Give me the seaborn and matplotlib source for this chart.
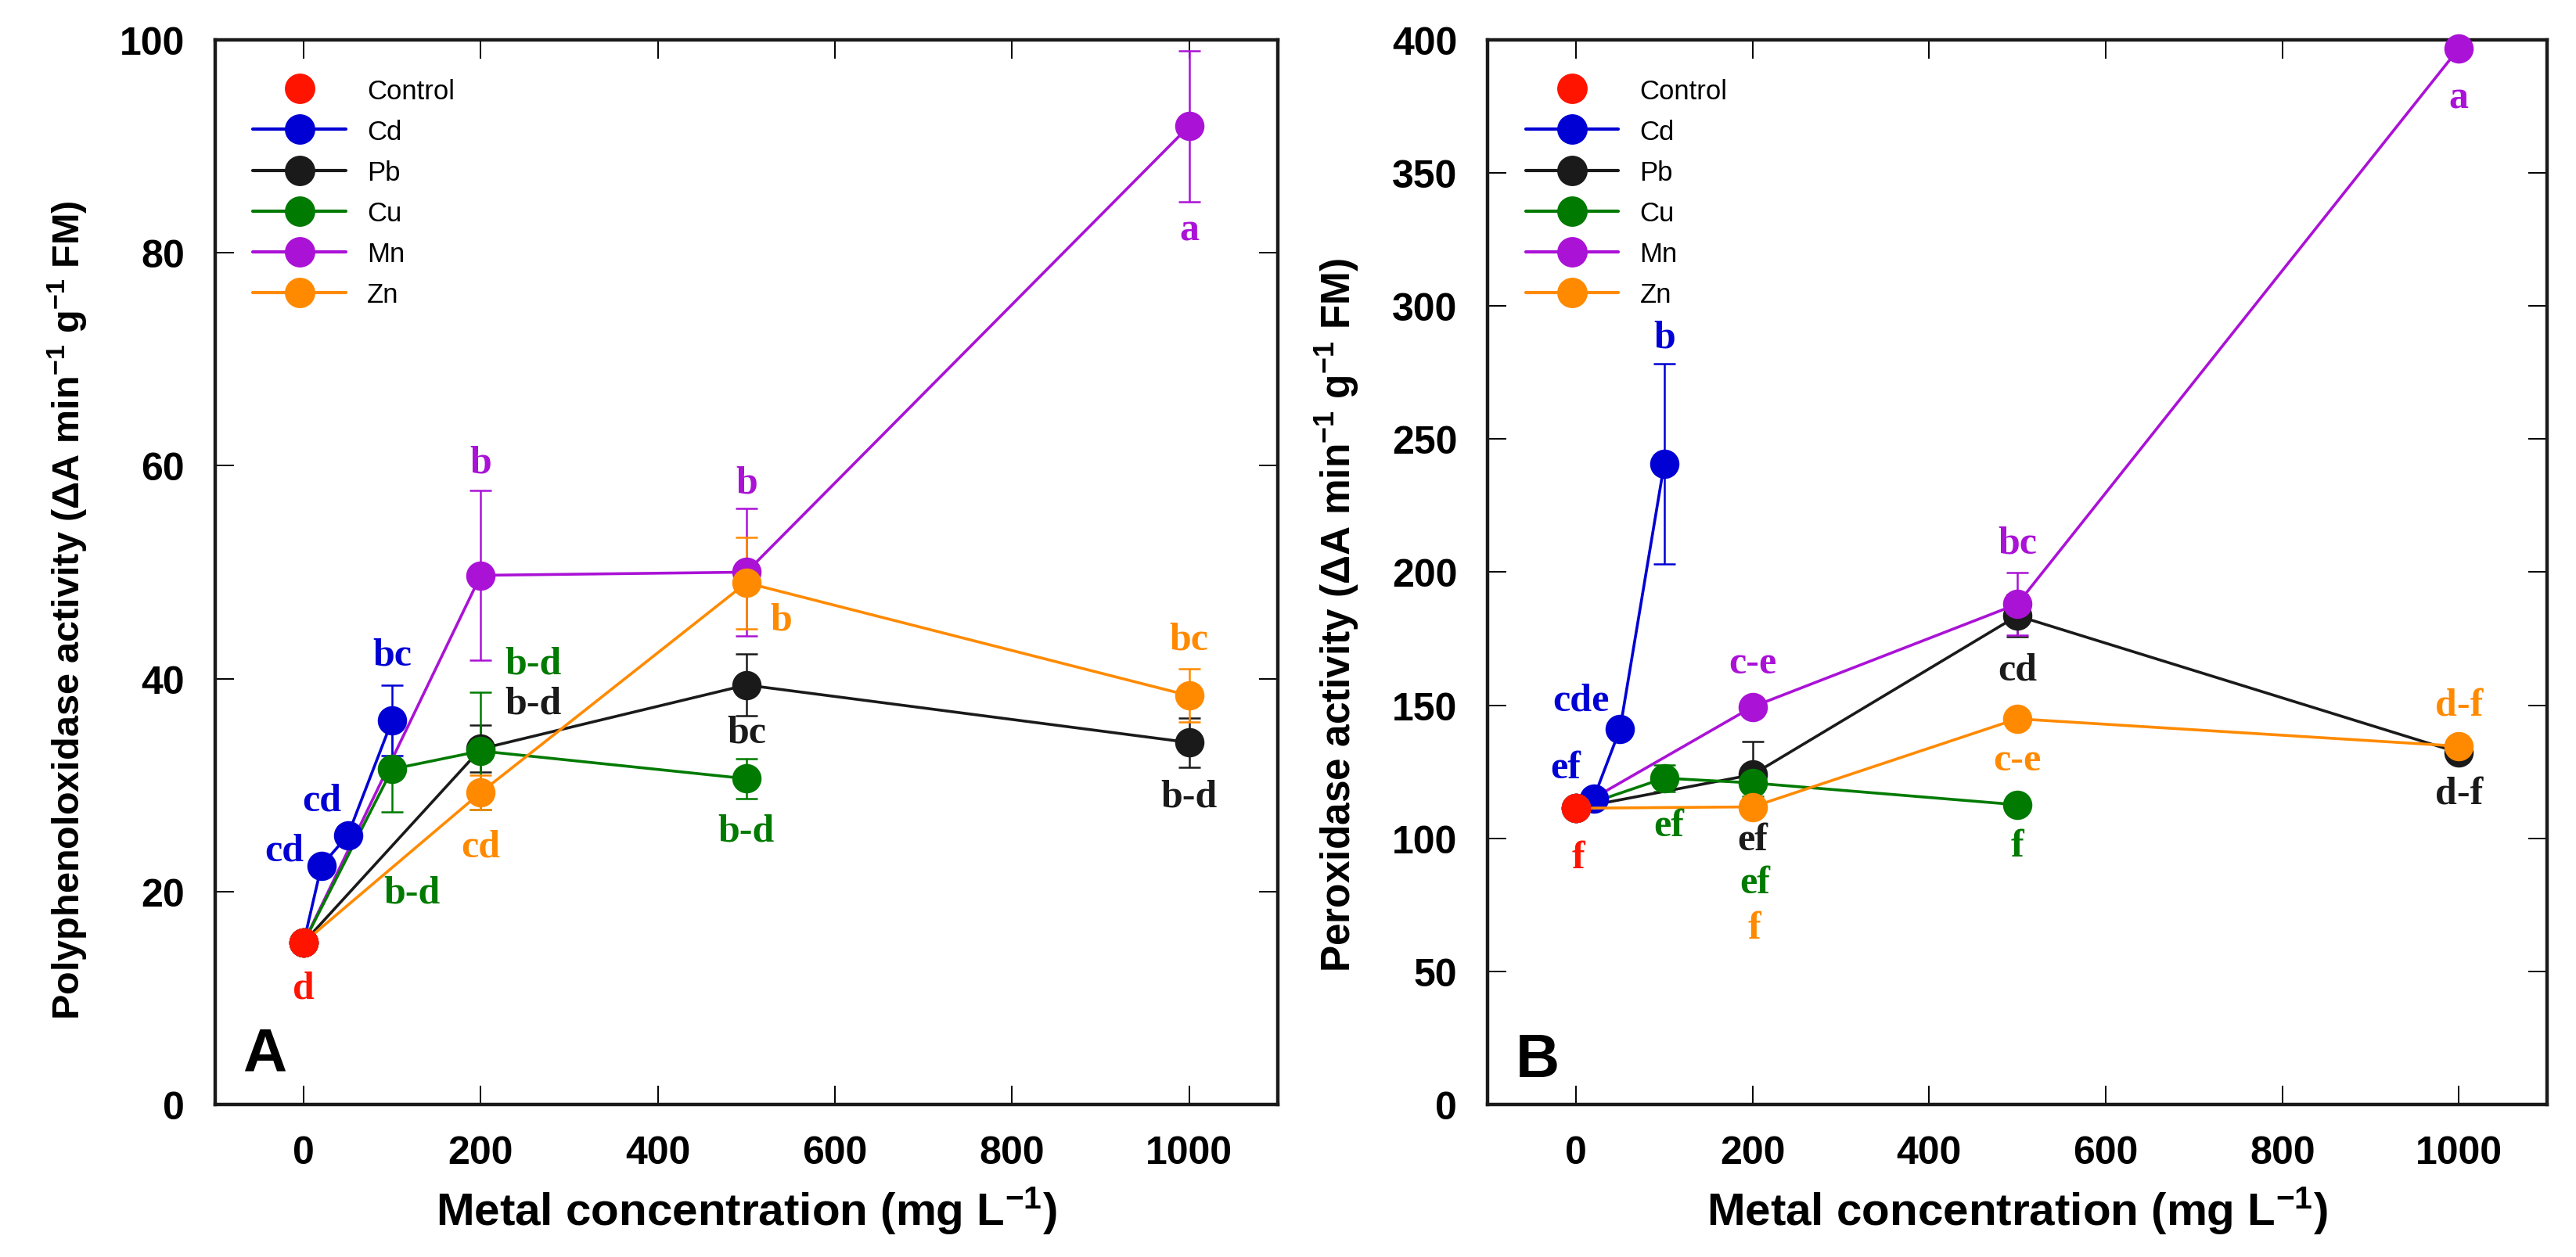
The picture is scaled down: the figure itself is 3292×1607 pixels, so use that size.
import numpy as np
import pandas as pd
import matplotlib
matplotlib.use('Agg')
import matplotlib.pyplot as plt
from matplotlib.lines import Line2D
import seaborn as sns

# concentrations per metal (mg/L)
metals = ['Cd', 'Pb', 'Cu', 'Mn', 'Zn']
conc = {
    'Cd': [20, 50, 100],
    'Pb': [200, 500, 1000],
    'Cu': [100, 200, 500],
    'Mn': [200, 500, 1000],
    'Zn': [200, 500, 1000],
}

# Panel A: polyphenoloxidase
ppo_control = 15.2
ppo_control_err = 0.8
ppo_mean = {
    'Cd': [22.4, 25.3, 36.1],
    'Pb': [33.4, 39.4, 34.0],
    'Cu': [31.5, 33.2, 30.6],
    'Mn': [49.7, 50.0, 91.9],
    'Zn': [29.3, 49.0, 38.4],
}
ppo_err = {
    'Cd': [0.8, 0.8, 3.3],
    'Pb': [2.2, 2.9, 2.3],
    'Cu': [4.0, 5.5, 1.9],
    'Mn': [8.0, 6.0, 7.1],
    'Zn': [1.6, 4.3, 2.5],
}
ppo_control_letter = 'd'
ppo_letters = {
    'Cd': ['cd', 'cd', 'bc'],
    'Pb': ['b-d', 'bc', 'b-d'],
    'Cu': ['b-d', 'b-d', 'b-d'],
    'Mn': ['b', 'b', 'a'],
    'Zn': ['cd', 'b', 'bc'],
}

# Panel B: peroxidase
pox_control = 111.3
pox_control_err = 2.0
pox_mean = {
    'Cd': [115.0, 141.1, 240.7],
    'Pb': [123.9, 183.6, 132.2],
    'Cu': [122.6, 120.8, 112.6],
    'Mn': [149.4, 188.0, 396.8],
    'Zn': [111.8, 144.9, 134.6],
}
pox_err = {
    'Cd': [3.0, 3.0, 37.7],
    'Pb': [12.6, 8.0, 2.0],
    'Cu': [5.0, 5.0, 2.0],
    'Mn': [3.0, 11.8, 3.0],
    'Zn': [2.0, 3.0, 3.0],
}
pox_control_letter = 'f'
pox_letters = {
    'Cd': ['ef', 'cde', 'b'],
    'Pb': ['ef', 'cd', 'd-f'],
    'Cu': ['ef', 'ef', 'f'],
    'Mn': ['c-e', 'bc', 'a'],
    'Zn': ['f', 'c-e', 'd-f'],
}

colors = {'Control': '#FF1400', 'Cd': '#0000D4', 'Pb': '#1A1A1A',
          'Cu': '#007A00', 'Mn': '#AA12D6', 'Zn': '#FF8A00'}

# letter offsets (points) relative to each marker
ppo_offsets = {
    'Control': (0, -21),
    'Cd': [(-17, 7), (-12, 16), (0, 30)],
    'Pb': [(24, 21), (0, -22), (0, -25)],
    'Cu': [(9, -57), (24, 40), (0, -24)],
    'Mn': [(0, 52), (0, 41), (0, -48)],
    'Zn': [(0, -25), (16, -17), (0, 26)],
}
pox_offsets = {
    'Control': (1, -23),
    'Cd': [(-13, 14), (-18, 13), (0, 58)],
    'Pb': [(0, -30), (0, -25), (0, -19)],
    'Cu': [(2, -22), (1, -46), (0, -19)],
    'Mn': [(0, 20), (0, 28), (0, -23)],
    'Zn': [(1, -56), (0, -19), (0, 19)],
}

draw_order = ['Pb', 'Mn', 'Cu', 'Cd', 'Zn']

sns.set_theme(style='ticks')
plt.rcParams['font.family'] = ['Liberation Sans', 'DejaVu Sans']
plt.rcParams['mathtext.fontset'] = 'custom'
plt.rcParams['mathtext.bf'] = 'Liberation Sans:bold'
plt.rcParams['mathtext.rm'] = 'Liberation Sans:bold'
plt.rcParams['mathtext.default'] = 'bf'
for key in ['text.color', 'axes.labelcolor', 'xtick.color', 'ytick.color']:
    plt.rcParams[key] = 'black'

narrow = ['Liberation Sans Narrow', 'Liberation Sans', 'DejaVu Sans']
serif = ['Liberation Serif', 'DejaVu Serif']

fig = plt.figure(figsize=(16.46, 8.04), dpi=200)
axA = fig.add_axes([0.0835, 0.1213, 0.4125, 0.8464])
axB = fig.add_axes([0.5775, 0.1213, 0.4113, 0.8464])


def draw_panel(ax, ctrl, ctrl_err, means, errs, letters, ctrl_letter, offsets):
    for i, m in enumerate(draw_order):
        df = pd.DataFrame({'conc': [0] + conc[m], 'value': [ctrl] + means[m]})
        ax.errorbar(conc[m], means[m], yerr=errs[m], fmt='none', ecolor=colors[m],
                    elinewidth=0.9, capsize=5, capthick=0.9, zorder=2 + i * 0.1)
        sns.lineplot(data=df, x='conc', y='value', color=colors[m], marker='o',
                     markersize=13.5, markeredgewidth=0, linewidth=1.3,
                     errorbar=None, ax=ax, zorder=3 + i, clip_on=False)
        for xv, yv, lab, off in zip(conc[m], means[m], letters[m], offsets[m]):
            ax.annotate(lab, (xv, yv), xytext=off, textcoords='offset points',
                        ha='center', va='center', color=colors[m], fontsize=18,
                        fontweight='bold', family=serif, zorder=20)
    ax.errorbar([0], [ctrl], yerr=[ctrl_err], fmt='none', ecolor=colors['Control'],
                elinewidth=0.9, capsize=5, capthick=0.9, zorder=2)
    sns.scatterplot(x=[0], y=[ctrl], color=colors['Control'], s=13.5 ** 2,
                    linewidth=0, ax=ax, zorder=15, clip_on=False)
    ax.annotate(ctrl_letter, (0, ctrl), xytext=offsets['Control'],
                textcoords='offset points', ha='center', va='center',
                color=colors['Control'], fontsize=18, fontweight='bold',
                family=serif, zorder=20)

    ax.set_xlim(-100, 1100)
    ax.set_xticks([0, 200, 400, 600, 800, 1000])
    ax.tick_params(direction='in', length=8.5, width=0.7, top=True, right=True,
                   labelsize=18, pad=14)
    for lab in ax.get_xticklabels():
        lab.set_fontweight('bold')
        lab.set_family(narrow)
    for sp in ax.spines.values():
        sp.set_linewidth(1.6)
        sp.set_color('#1a1a1a')
    ax.set_xlabel(r'Metal concentration (mg L$^{-1}$)', fontsize=21,
                  fontweight='bold', family=narrow, labelpad=6)

    handles = [Line2D([], [], color=colors['Control'], marker='o', linestyle='none',
                      markersize=14, markeredgewidth=0)]
    handles += [Line2D([], [], color=colors[m], marker='o', linewidth=1.5,
                       markersize=14, markeredgewidth=0) for m in metals]
    ax.legend(handles, ['Control'] + metals, loc='upper left', frameon=False,
              fontsize=12.5, handlelength=3.4, handletextpad=0.8,
              labelspacing=0.55, borderaxespad=1.0)


draw_panel(axA, ppo_control, ppo_control_err, ppo_mean, ppo_err, ppo_letters,
           ppo_control_letter, ppo_offsets)
axA.set_ylim(0, 100)
axA.set_yticks([0, 20, 40, 60, 80, 100])
for lab in axA.get_yticklabels():
    lab.set_fontweight('bold')
axA.set_ylabel(r'Polyphenoloxidase activity ($\Delta$A min$^{-1}$ g$^{-1}$ FM)',
               fontsize=17.5, fontweight='bold', labelpad=14)
axA.yaxis.label.set_y(0.465)
axA.text(0.026, 0.02, 'A', transform=axA.transAxes, fontsize=28,
         fontweight='bold', family=narrow, ha='left', va='bottom')

draw_panel(axB, pox_control, pox_control_err, pox_mean, pox_err, pox_letters,
           pox_control_letter, pox_offsets)
axB.set_ylim(0, 400)
axB.set_yticks([0, 50, 100, 150, 200, 250, 300, 350, 400])
for lab in axB.get_yticklabels():
    lab.set_fontweight('bold')
axB.set_ylabel(r'Peroxidase activity ($\Delta$A min$^{-1}$ g$^{-1}$ FM)',
               fontsize=18.5, fontweight='bold', labelpad=14)
axB.yaxis.label.set_y(0.46)
axB.text(0.026, 0.015, 'B', transform=axB.transAxes, fontsize=28,
         fontweight='bold', family=narrow, ha='left', va='bottom')

fig.savefig('out.png', dpi=200)
